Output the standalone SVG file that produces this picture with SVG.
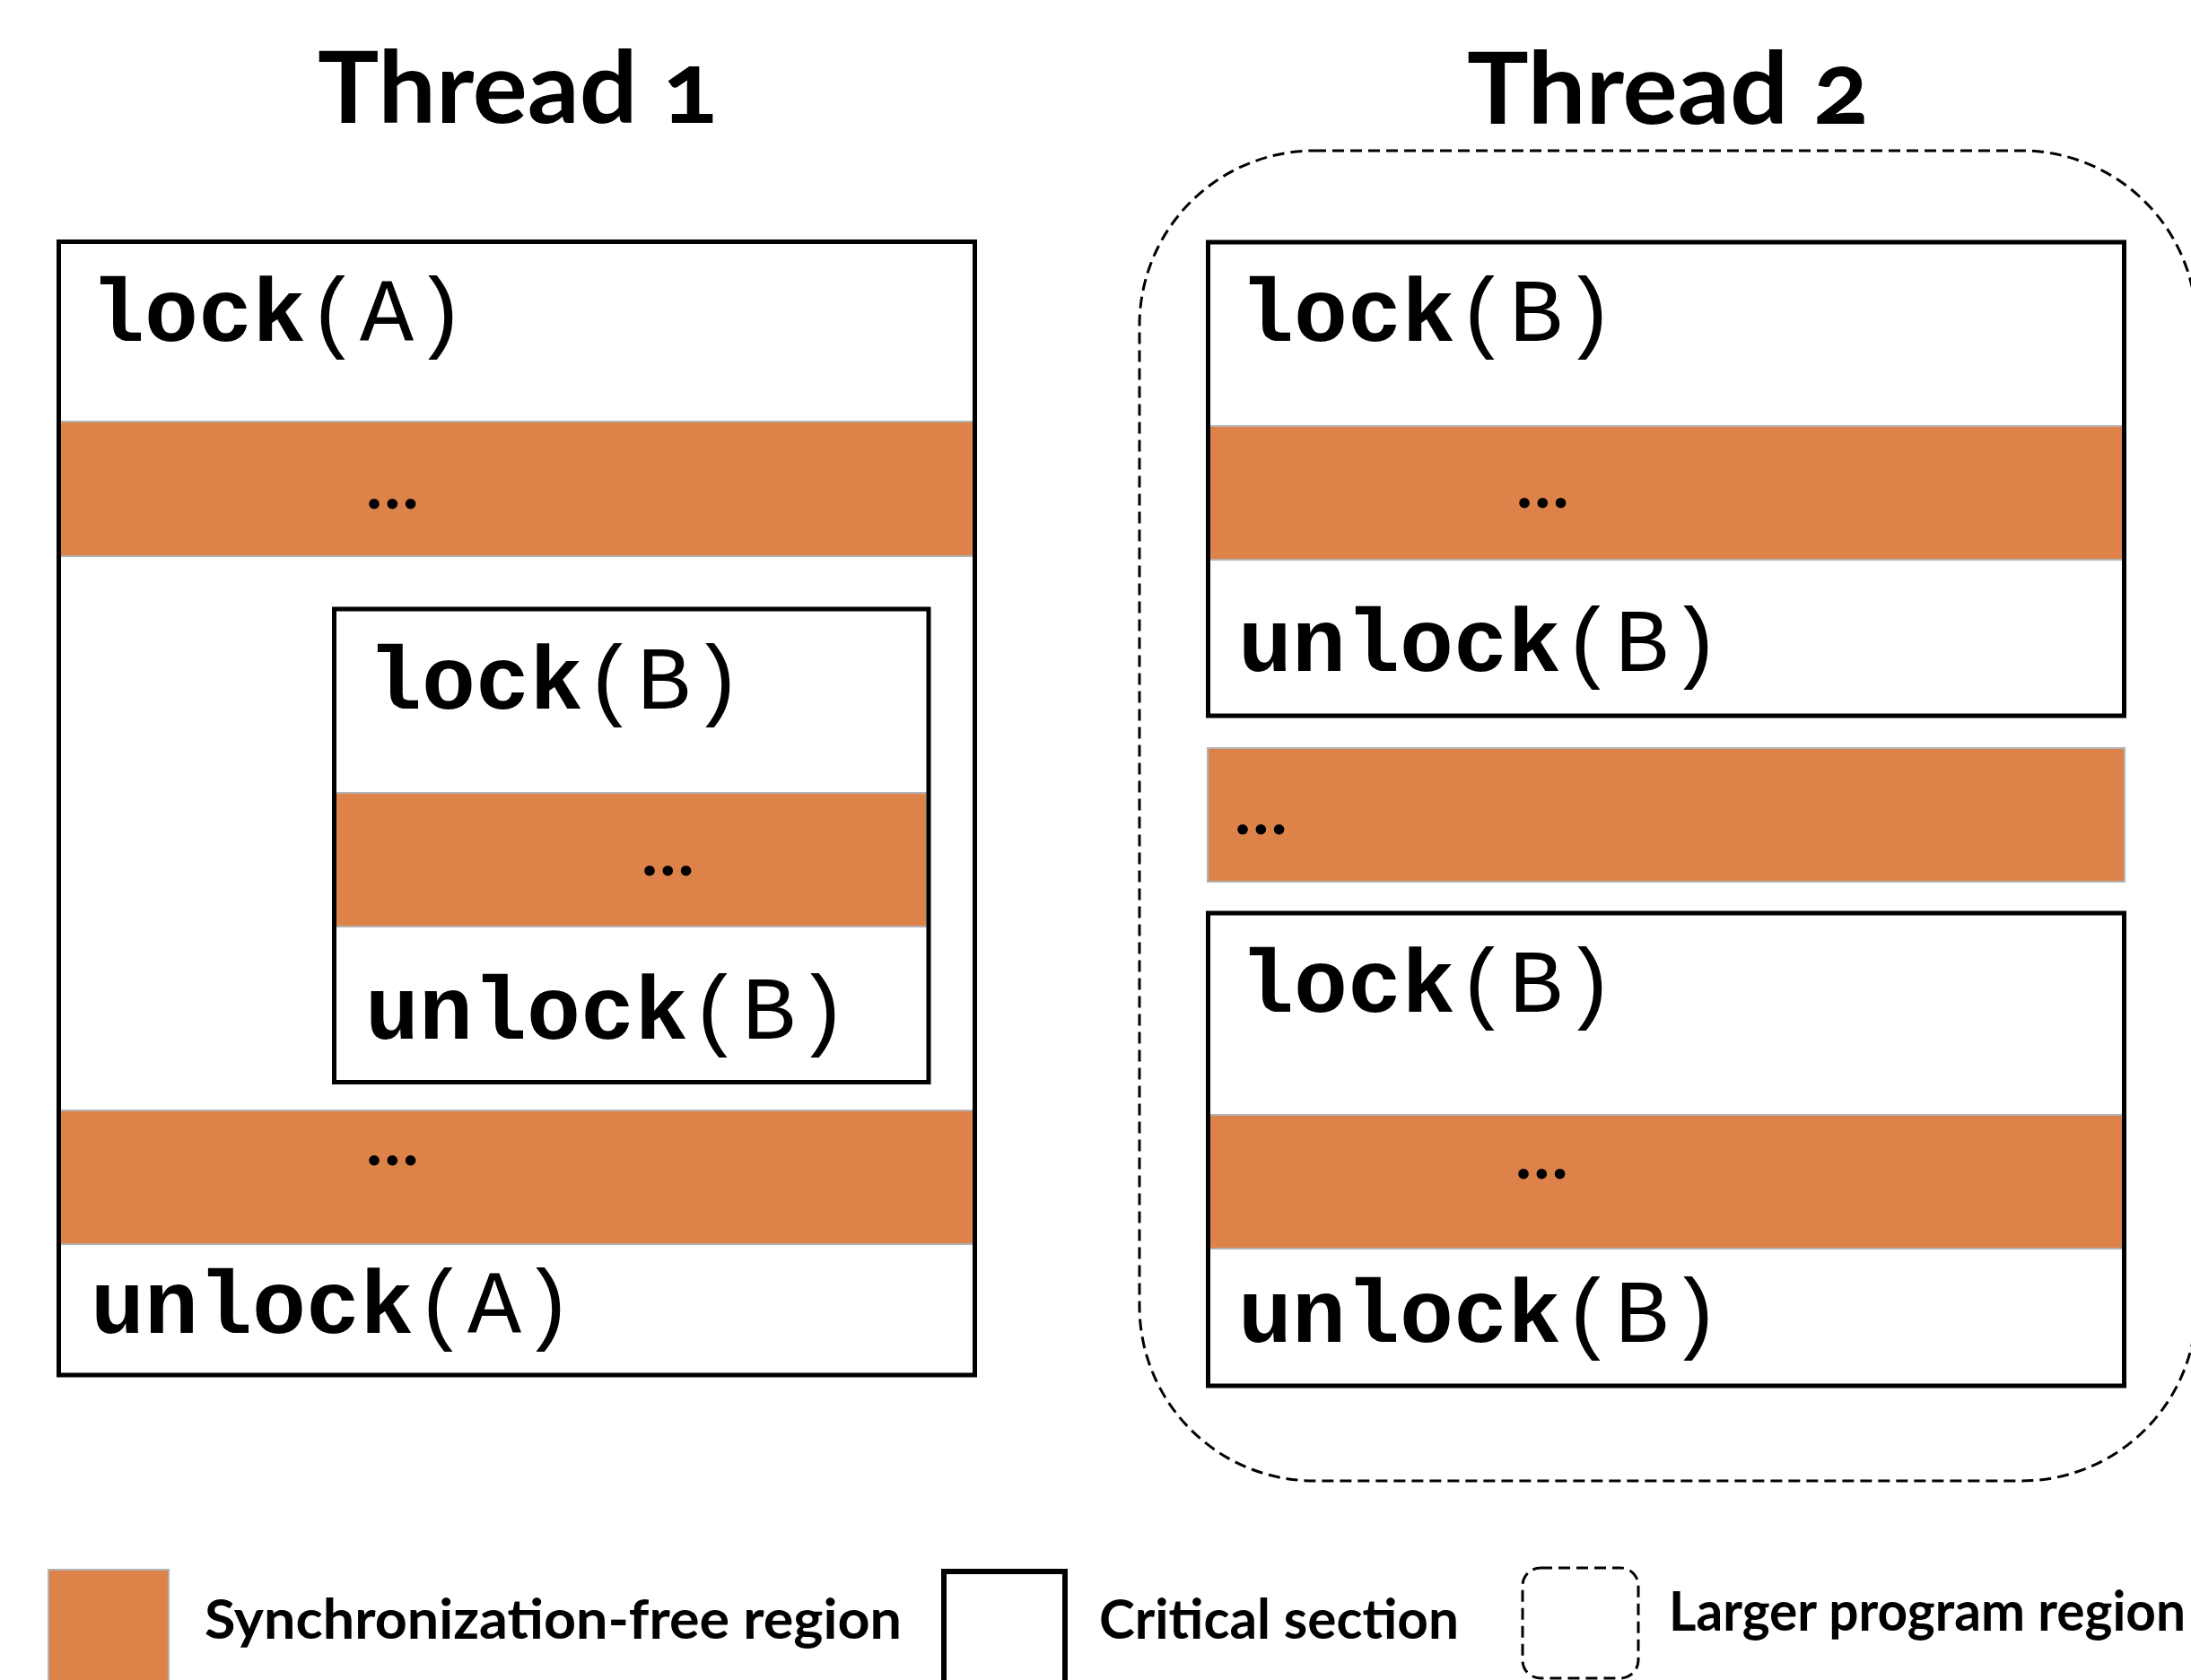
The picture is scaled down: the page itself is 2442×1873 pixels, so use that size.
<svg xmlns="http://www.w3.org/2000/svg" width="2442" height="1873" viewBox="0 0 2442 1873">
<style>
.title{font-family:Lato,"Open Sans","Liberation Sans",sans-serif;font-weight:bold;font-size:112px;fill:#000;font-variant-numeric:oldstyle-nums}
.leg{font-family:Lato,"Open Sans","Liberation Sans",sans-serif;font-weight:bold;font-size:61px;fill:#000}
.code{font-family:"Courier New","Liberation Mono",monospace;font-size:100px;fill:#000}
.kw{font-weight:bold}
.arg{font-weight:normal}
.dots{font-family:Lato,"Open Sans","Liberation Sans",sans-serif;font-weight:bold;font-size:76px;fill:#000}
.band{fill:#DD8249;stroke:#B3B3B3;stroke-width:2}
.crit{fill:none;stroke:#000;stroke-width:5}
.region{fill:none;stroke:#000;stroke-width:3;stroke-dasharray:13 7}
</style>
<rect width="2442" height="1873" fill="#fff"/>
<text class="title" x="354" y="137" textLength="446" lengthAdjust="spacingAndGlyphs">Thread 1</text>
<text class="title" x="1635" y="138" textLength="448" lengthAdjust="spacingAndGlyphs">Thread 2</text>

<g id="thread2-region">
<rect class="region" x="1270" y="168" width="1178" height="1483" rx="195" ry="195"/>
</g>

<g id="t1-lockA">
<rect x="65.5" y="269.5" width="1021" height="1263.5" fill="#fff"/>
<rect class="band" x="67" y="470" width="1018" height="150"/>
<text class="dots" x="408" y="567">…</text>
<rect class="band" x="67" y="1238" width="1018" height="149"/>
<text class="dots" x="408" y="1299">…</text>
<text class="code" x="101" y="380"><tspan class="kw">lock</tspan><tspan class="arg">(A)</tspan></text>
<text class="code" x="101" y="1486"><tspan class="kw">unlock</tspan><tspan class="arg">(A)</tspan></text>
<rect class="crit" x="65.5" y="269.5" width="1021" height="1263.5"/>
</g>

<g id="t1-lockB">
<rect x="372.5" y="679" width="662.5" height="527.5" fill="#fff"/>
<rect class="band" x="374" y="884" width="659" height="149"/>
<text class="dots" x="715" y="976">…</text>
<text class="code" x="410" y="790"><tspan class="kw">lock</tspan><tspan class="arg">(B)</tspan></text>
<text class="code" x="407" y="1158"><tspan class="kw">unlock</tspan><tspan class="arg">(B)</tspan></text>
<rect class="crit" x="372.5" y="679" width="662.5" height="527.5"/>
</g>

<g id="t2-lockB-1">
<rect x="1346.5" y="270" width="1021" height="528" fill="#fff"/>
<rect class="band" x="1348" y="475" width="1018" height="149"/>
<text class="dots" x="1690" y="566">…</text>
<text class="code" x="1382" y="380"><tspan class="kw">lock</tspan><tspan class="arg">(B)</tspan></text>
<text class="code" x="1380" y="748"><tspan class="kw">unlock</tspan><tspan class="arg">(B)</tspan></text>
<rect class="crit" x="1346.5" y="270" width="1021" height="528"/>
</g>

<g id="t2-free">
<rect class="band" x="1346" y="834" width="1022" height="149"/>
<text class="dots" x="1376" y="930">…</text>
</g>

<g id="t2-lockB-2">
<rect x="1346.5" y="1018" width="1021" height="527" fill="#fff"/>
<rect class="band" x="1348" y="1243" width="1018" height="149"/>
<text class="dots" x="1689" y="1314">…</text>
<text class="code" x="1382" y="1128"><tspan class="kw">lock</tspan><tspan class="arg">(B)</tspan></text>
<text class="code" x="1380" y="1496"><tspan class="kw">unlock</tspan><tspan class="arg">(B)</tspan></text>
<rect class="crit" x="1346.5" y="1018" width="1021" height="527"/>
</g>

<g id="connectors"></g>

<g id="legend">
<rect class="band" x="54" y="1750" width="134" height="140"/>
<text class="leg" x="228" y="1827" textLength="777" lengthAdjust="spacingAndGlyphs">Synchronization-free region</text>
<rect x="1052" y="1752" width="135" height="140" fill="none" stroke="#000" stroke-width="6"/>
<text class="leg" x="1225" y="1827" textLength="401" lengthAdjust="spacingAndGlyphs">Critical section</text>
<rect class="region" x="1697" y="1748" width="129" height="123" rx="20" ry="20"/>
<text class="leg" x="1860" y="1818" textLength="576" lengthAdjust="spacingAndGlyphs">Larger program region</text>
</g>
</svg>
